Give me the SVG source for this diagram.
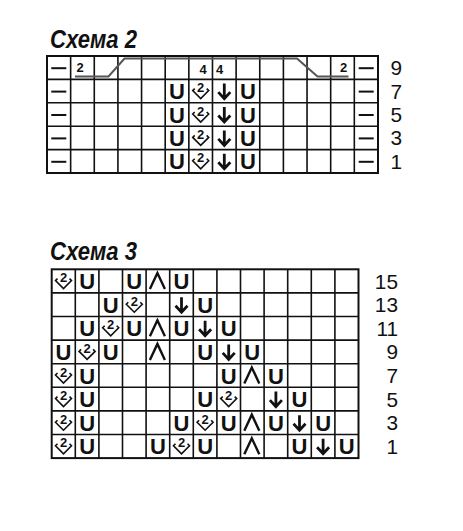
<svg xmlns="http://www.w3.org/2000/svg" xmlns:xlink="http://www.w3.org/1999/xlink" width="463" height="531" viewBox="0 0 463 531">
<style>
.title{font-family:"Liberation Sans",Arial,sans-serif;font-weight:bold;font-style:italic;font-size:25px;fill:#111}
.lbl{font-family:"Liberation Sans",Arial,sans-serif;font-size:20.8px;fill:#111;text-anchor:end}
.u{font-family:"Liberation Sans",Arial,sans-serif;font-weight:bold;font-size:22px;fill:#111;text-anchor:middle}
.d2{font-family:"Liberation Sans",Arial,sans-serif;font-weight:bold;font-size:13px;fill:#111;text-anchor:middle}
.sm{font-family:"Liberation Sans",Arial,sans-serif;font-weight:bold;font-size:13px;fill:#111}
.grid{fill:none;stroke:#111;stroke-width:1.6}
.frame{fill:none;stroke:#111;stroke-width:2}
.sym{fill:none;stroke:#111;stroke-linecap:butt;stroke-linejoin:miter}
</style>
<defs>
<path id="dn" class="sym" stroke-width="2.8" d="M0,-7.5V7 M-6,1L0,7.5L6,1"/>
<path id="up" class="sym" stroke-width="2.4" d="M-7.5,8L0,-8L7.5,8"/>
<path id="vee" class="sym" stroke-width="1.6" d="M-6,-2.5L-8,-0.5L0,7.5L8,-0.5L6,-2.5"/>
<path id="dash" class="sym" stroke-width="2" d="M-7.5,0.5H7.5"/>
</defs>

<g id="schema2">
<text class="title" x="50" y="48" textLength="87" lengthAdjust="spacingAndGlyphs">Схема 2</text>
<g id="grid2">
<path class="grid" d="M70.64,56V173M94.28,56V173M117.92,56V173M141.56,56V173M165.2,56V173M188.84,56V173M212.48,56V173M236.12,56V173M259.76,56V173M283.4,56V173M307.04,56V173M330.68,56V173M354.32,56V173M47,79.4H378M47,102.8H378M47,126.2H378M47,149.6H378"/>
<rect class="frame" x="47" y="56" width="331" height="117"/>
</g>
<g id="row9-s2">
<use href="#dash" x="58.8" y="67.7"/>
<use href="#dash" x="366.2" y="67.7"/>
<text class="sm" x="76.5" y="72">2</text>
<text class="sm" x="340" y="72">2</text>
<text class="sm" x="199.5" y="74">4</text>
<text class="sm" x="216" y="74">4</text>
<polyline fill="none" stroke="#555" stroke-width="2" points="75,76.5 108.5,76.5 124.5,58.5 297,58.5 317.5,76.5 348.5,76.5"/>
</g>
<g id="rows-s2">
<use href="#dash" x="58.8" y="91.1"/><use href="#dash" x="58.8" y="114.5"/><use href="#dash" x="58.8" y="137.9"/><use href="#dash" x="58.8" y="161.3"/>
<use href="#dash" x="366.2" y="91.1"/><use href="#dash" x="366.2" y="114.5"/><use href="#dash" x="366.2" y="137.9"/><use href="#dash" x="366.2" y="161.3"/>
<text class="u" x="177" y="99.1">U</text><text class="u" x="177" y="122.5">U</text><text class="u" x="177" y="145.9">U</text><text class="u" x="177" y="169.3">U</text>
<text class="u" x="247.9" y="99.1">U</text><text class="u" x="247.9" y="122.5">U</text><text class="u" x="247.9" y="145.9">U</text><text class="u" x="247.9" y="169.3">U</text>
<use href="#vee" x="200.7" y="91.1"/><text class="d2" x="200.7" y="92.1">2</text>
<use href="#vee" x="200.7" y="114.5"/><text class="d2" x="200.7" y="115.5">2</text>
<use href="#vee" x="200.7" y="137.9"/><text class="d2" x="200.7" y="138.9">2</text>
<use href="#vee" x="200.7" y="161.3"/><text class="d2" x="200.7" y="162.3">2</text>
<use href="#dn" x="224.3" y="91.1"/><use href="#dn" x="224.3" y="114.5"/><use href="#dn" x="224.3" y="137.9"/><use href="#dn" x="224.3" y="161.3"/>
</g>
<g id="labels-s2">
<text class="lbl" x="402" y="75.2">9</text>
<text class="lbl" x="402" y="98.6">7</text>
<text class="lbl" x="402" y="122">5</text>
<text class="lbl" x="402" y="145.4">3</text>
<text class="lbl" x="402" y="168.8">1</text>
</g>
</g>

<g id="schema3">
<text class="title" x="50" y="260" textLength="87" lengthAdjust="spacingAndGlyphs">Схема 3</text>
<g id="grid3">
<path class="grid" d="M75.3,269.3V458.1M98.9,269.3V458.1M122.5,269.3V458.1M146.1,269.3V458.1M169.7,269.3V458.1M193.3,269.3V458.1M216.9,269.3V458.1M240.5,269.3V458.1M264.1,269.3V458.1M287.7,269.3V458.1M311.3,269.3V458.1M334.9,269.3V458.1M51.7,292.9H358.5M51.7,316.5H358.5M51.7,340.1H358.5M51.7,363.7H358.5M51.7,387.3H358.5M51.7,410.9H358.5M51.7,434.5H358.5"/>
<rect class="frame" x="51.7" y="269.3" width="306.8" height="188.8"/>
</g>
<g id="row15">
<use href="#vee" x="63.5" y="281.1"/><text class="d2" x="63.5" y="282.1">2</text>
<text class="u" x="87.1" y="289.1">U</text>
<text class="u" x="134.3" y="289.1">U</text>
<use href="#up" x="157.4" y="281.1"/>
<text class="u" x="181.5" y="289.1">U</text>
</g>
<g id="row13">
<text class="u" x="110.7" y="312.7">U</text>
<use href="#vee" x="134.3" y="304.7"/><text class="d2" x="134.3" y="305.7">2</text>
<use href="#dn" x="181.5" y="304.7"/>
<text class="u" x="205.1" y="312.7">U</text>
</g>
<g id="row11">
<text class="u" x="87.1" y="336.3">U</text>
<use href="#vee" x="110.7" y="328.3"/><text class="d2" x="110.7" y="329.3">2</text>
<text class="u" x="134.3" y="336.3">U</text>
<use href="#up" x="157.4" y="328.3"/>
<text class="u" x="181.5" y="336.3">U</text>
<use href="#dn" x="205.1" y="328.3"/>
<text class="u" x="228.7" y="336.3">U</text>
</g>
<g id="row9">
<text class="u" x="63.5" y="359.9">U</text>
<use href="#vee" x="87.1" y="351.9"/><text class="d2" x="87.1" y="352.9">2</text>
<text class="u" x="110.7" y="359.9">U</text>
<use href="#up" x="157.4" y="351.9"/>
<text class="u" x="205.1" y="359.9">U</text>
<use href="#dn" x="228.7" y="351.9"/>
<text class="u" x="252.3" y="359.9">U</text>
</g>
<g id="row7">
<use href="#vee" x="63.5" y="375.5"/><text class="d2" x="63.5" y="376.5">2</text>
<text class="u" x="87.1" y="383.5">U</text>
<text class="u" x="228.7" y="383.5">U</text>
<use href="#up" x="251.8" y="375.5"/>
<text class="u" x="275.9" y="383.5">U</text>
</g>
<g id="row5">
<use href="#vee" x="63.5" y="399.1"/><text class="d2" x="63.5" y="400.1">2</text>
<text class="u" x="87.1" y="407.1">U</text>
<text class="u" x="205.1" y="407.1">U</text>
<use href="#vee" x="228.7" y="399.1"/><text class="d2" x="228.7" y="400.1">2</text>
<use href="#dn" x="275.9" y="399.1"/>
<text class="u" x="299.5" y="407.1">U</text>
</g>
<g id="row3">
<use href="#vee" x="63.5" y="422.7"/><text class="d2" x="63.5" y="423.7">2</text>
<text class="u" x="87.1" y="430.7">U</text>
<text class="u" x="181.5" y="430.7">U</text>
<use href="#vee" x="205.1" y="422.7"/><text class="d2" x="205.1" y="423.7">2</text>
<text class="u" x="228.7" y="430.7">U</text>
<use href="#up" x="251.8" y="422.7"/>
<text class="u" x="275.9" y="430.7">U</text>
<use href="#dn" x="299.5" y="422.7"/>
<text class="u" x="323.1" y="430.7">U</text>
</g>
<g id="row1">
<use href="#vee" x="63.5" y="446.3"/><text class="d2" x="63.5" y="447.3">2</text>
<text class="u" x="87.1" y="454.3">U</text>
<text class="u" x="157.9" y="454.3">U</text>
<use href="#vee" x="181.5" y="446.3"/><text class="d2" x="181.5" y="447.3">2</text>
<text class="u" x="205.1" y="454.3">U</text>
<use href="#up" x="251.8" y="446.3"/>
<text class="u" x="299.5" y="454.3">U</text>
<use href="#dn" x="323.1" y="446.3"/>
<text class="u" x="346.7" y="454.3">U</text>
</g>
<g id="labels-s3">
<text class="lbl" x="398" y="288.6">15</text>
<text class="lbl" x="398" y="312.2">13</text>
<text class="lbl" x="398" y="335.8">11</text>
<text class="lbl" x="398" y="359.4">9</text>
<text class="lbl" x="398" y="383">7</text>
<text class="lbl" x="398" y="406.6">5</text>
<text class="lbl" x="398" y="430.2">3</text>
<text class="lbl" x="398" y="453.8">1</text>
</g>
</g>
</svg>
